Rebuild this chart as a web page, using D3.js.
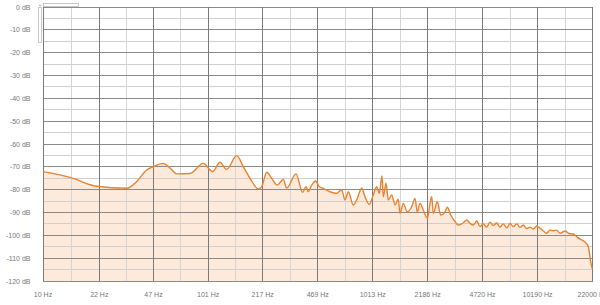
<!DOCTYPE html>
<html>
<head>
<meta charset="utf-8">
<script src="https://cdn.jsdelivr.net/npm/d3@7"></script>
<style>
  html, body { margin: 0; padding: 0; background: #fff; }
  svg { display: block; font-family: "Liberation Sans", Arial, sans-serif; }
  .lbl { fill: #777; font-size: 7px; }
</style>
</head>
<body>
<svg id="chart" width="600" height="305"></svg>
<script>
// Frequency axis ticks (Hz) and level ticks (dB)
const freqTicks = [10, 22, 47, 101, 217, 469, 1013, 2186, 4720, 10190, 22000]
const dbTicks = [0, -10, -20, -30, -40, -50, -60, -70, -80, -90, -100, -110, -120]

// Spectrum: frequency (Hz) and level (dB)
const freqs = [
  10, 14.6, 21.2, 32.3, 37.1, 42.7, 46.9, 53.9, 59.2, 65.1,
  78.4, 94.4, 107.7, 119.3, 131.1, 150.7, 165.4, 181.6, 204, 214,
  229.5, 246, 266, 289.5, 303.5, 345.8, 379.8, 397.9, 411, 430.9,
  455.7, 479.4, 507, 556.8, 611.6, 655.9, 687, 719.5, 771.6, 809.2,
  867.9, 909, 965.4, 1021, 1071, 1111, 1153, 1175, 1220, 1260,
  1321, 1384, 1450, 1484, 1554, 1644, 1748, 1831, 1891, 1964,
  2077, 2176, 2259, 2314, 2366, 2502, 2625, 2788, 2879, 3020,
  3207, 3358, 3601, 3777, 3956, 4143, 4345, 4551, 4767, 5000,
  5236, 5483, 5750, 6023, 6308, 6614, 6928, 7256, 7608, 7969,
  8347, 8753, 9170, 9603, 10070, 10550, 11050, 11580, 12130, 12710,
  13330, 13960, 14970, 15830, 16820, 17640, 18480, 19340, 20090, 20750,
  21460, 21950
]
const levels = [
  -72.1, -74.6, -78.5, -79.4, -76.5, -71.4, -69.9, -68.5, -70.5, -73.1,
  -72.9, -68.5, -72.1, -68.0, -71.1, -65.1, -69.9, -75.0, -79.7, -78.7,
  -72.4, -75.0, -78.0, -75.5, -79.3, -73.1, -81.2, -78.7, -80.9, -78.0,
  -76.2, -78.7, -79.4, -80.9, -81.6, -80.1, -84.5, -80.9, -86.7, -84.5,
  -79.4, -83.1, -86.4, -82.3, -78.7, -81.6, -74.0, -83.1, -77.2, -84.5,
  -82.3, -86.7, -84.2, -90.4, -86.0, -89.7, -87.5, -83.8, -89.7, -86.0,
  -89.7, -92.5, -86.0, -83.1, -90.4, -85.3, -91.1, -89.7, -87.7, -91.1,
  -94.0, -95.5, -94.5, -93.3, -94.7, -95.5, -93.7, -96.2, -95.0, -96.4,
  -94.2, -95.7, -94.6, -96.4, -95.0, -96.8, -94.8, -96.2, -95.0, -96.5,
  -95.5, -97.0, -96.4, -97.2, -95.9, -96.9, -98.1, -99.1, -97.7, -98.0,
  -97.7, -99.1, -98.1, -99.2, -99.4, -100.6, -101.7, -102.4, -103.4, -105.0,
  -111.7, -114.7
]

const data = freqs.map((f, i) => ({ f, db: levels[i] }))

const svg = d3.select('#chart')
const plotLeft = 43, plotRight = 592.5, plotTop = 7, plotBottom = 281

const x = d3.scaleLog().domain([10, 22000]).range([plotLeft, plotRight])
const y = d3.scaleLinear().domain([-120, 0]).range([plotBottom, plotTop])

// Area fill under the curve
svg.append('path')
  .datum(data)
  .attr('fill', '#fdeadb')
  .attr('d', d3.area()
    .x((d) => x(d.f))
    .y0(y(-120))
    .y1((d) => y(d.db))
    .curve(d3.curveMonotoneX))

// Minor grid: 5 dB steps and log midpoints between frequency ticks
const g = svg.append('g').attr('shape-rendering', 'crispEdges')
const minorDb = dbTicks.slice(0, -1).map((d) => d - 5)
g.selectAll('.hminor').data(minorDb).join('line')
  .attr('x1', plotLeft).attr('x2', plotRight)
  .attr('y1', (d) => y(d)).attr('y2', (d) => y(d))
  .attr('stroke', '#cfcfcf')
const minorF = d3.pairs(freqTicks).map(([a, b]) => Math.sqrt(a * b))
g.selectAll('.vminor').data(minorF).join('line')
  .attr('x1', (d) => x(d)).attr('x2', (d) => x(d))
  .attr('y1', plotTop).attr('y2', plotBottom)
  .attr('stroke', '#d6d6d6')

// Major grid
g.selectAll('.hmajor').data(dbTicks).join('line')
  .attr('x1', plotLeft).attr('x2', plotRight)
  .attr('y1', (d) => y(d)).attr('y2', (d) => y(d))
  .attr('stroke', '#8a8a8a')
g.selectAll('.vmajor').data(freqTicks).join('line')
  .attr('x1', (d) => x(d)).attr('x2', (d) => x(d))
  .attr('y1', plotTop).attr('y2', plotBottom)
  .attr('stroke', '#7a7a7a')

// Spectrum line
svg.append('path')
  .datum(data)
  .attr('fill', 'none')
  .attr('stroke', '#e9832f')
  .attr('stroke-width', 1.4)
  .attr('stroke-linejoin', 'round')
  .attr('d', d3.line()
    .x((d) => x(d.f))
    .y((d) => y(d.db))
    .curve(d3.curveMonotoneX))

// Labels
svg.selectAll('.ylbl').data(dbTicks).join('text')
  .attr('class', 'lbl')
  .attr('x', 30.5)
  .attr('y', (d) => y(d) + 2.5)
  .attr('text-anchor', 'end')
  .text((d) => `${d} dB`)
svg.selectAll('.xlbl').data(freqTicks).join('text')
  .attr('class', 'lbl')
  .attr('x', (d) => x(d))
  .attr('y', 297)
  .attr('text-anchor', 'middle')
  .text((d) => `${d} Hz`)

// Small zoom handles in the corner
svg.append('rect').attr('x', 43.5).attr('y', 3.5).attr('width', 35).attr('height', 3)
  .attr('fill', '#fff').attr('stroke', '#bbb').attr('stroke-width', 0.8)
svg.append('rect').attr('x', 38.5).attr('y', 7.5).attr('width', 3).attr('height', 35)
  .attr('fill', '#fff').attr('stroke', '#bbb').attr('stroke-width', 0.8)
svg.append('text').attr('x', 38.5).attr('y', 7).attr('font-size', 5).attr('fill', '#999').text('+')
</script>
</body>
</html>
